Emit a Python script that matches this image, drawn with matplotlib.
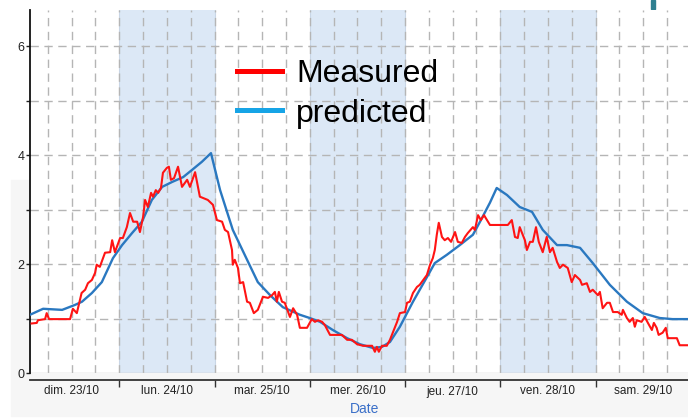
import matplotlib
matplotlib.use("Agg")
import matplotlib.pyplot as plt
from matplotlib.lines import Line2D
from matplotlib.patches import Rectangle
import numpy as np

# ---- data (hours since 23/10 00:00, value) ----
day_labels = ["dim. 23/10", "lun. 24/10", "mar. 25/10", "mer. 26/10",
              "jeu. 27/10", "ven. 28/10", "sam. 29/10"]
shaded_days = [1, 3, 5]

pred_h = [1.5, 4.8, 9.6, 12.8, 14.6, 17.1, 19.6, 22.4, 24.7, 27.2, 29.7, 32.2,
          34.8, 37.3, 40.1, 42.3, 44.8, 47.1, 49.4, 52.6, 56.2, 58.9, 62.0,
          65.2, 69.5, 72.0, 74.6, 77.8, 81.4, 84.6, 87.9, 90.2, 92.2, 94.7,
          98.0, 101.5, 103.5, 106.5, 109.8, 113.1, 114.9, 117.4, 119.1, 121.7,
          124.9, 128.0, 130.7, 134.3, 136.8, 140.1, 143.3, 147.6, 151.9, 155.9,
          160.2, 163.4, 167.3]
pred_v = [1.07, 1.18, 1.16, 1.25, 1.31, 1.47, 1.67, 2.11, 2.35, 2.57, 2.78, 3.18,
          3.42, 3.51, 3.60, 3.73, 3.88, 4.04, 3.36, 2.63, 2.08, 1.67, 1.43,
          1.21, 1.07, 1.01, 0.94, 0.79, 0.64, 0.53, 0.46, 0.48, 0.57, 0.85,
          1.31, 1.76, 2.02, 2.17, 2.35, 2.54, 2.78, 3.13, 3.40, 3.27,
          3.05, 2.96, 2.63, 2.35, 2.35, 2.30, 2.02, 1.62, 1.31, 1.10,
          1.01, 0.99, 0.99]

meas_h = [1.9, 3.2, 3.5, 5.3, 5.7, 6.3, 11.6, 12.3, 13.3, 14.5, 15.4, 16.1, 17.1,
          17.9, 18.3, 19.1, 20.4, 21.7, 22.2, 22.9, 24.2, 24.9, 25.9, 26.7, 27.5,
          28.5, 29.2, 30.0, 30.5, 31.2, 32.0, 32.5, 33.2, 33.8, 34.5, 35.0, 36.0,
          36.5, 37.0, 37.8, 38.8, 39.8, 41.1, 41.8, 43.1, 44.3, 46.3, 47.6, 48.6,
          49.9, 50.6, 51.4, 52.4, 52.6, 53.1, 53.9, 54.4, 55.2, 56.2, 56.9, 57.9,
          58.9, 60.2, 61.5, 62.5, 63.2, 63.7, 64.2, 65.0, 65.7, 66.2, 67.0, 67.8,
          68.8, 69.5, 71.3, 72.5, 73.3, 74.1, 75.1, 75.8, 77.1, 80.1, 81.4, 82.6,
          83.9, 85.4, 87.7, 88.4, 88.9, 89.4, 90.2, 91.4, 92.2, 92.9, 94.0, 94.7,
          96.0, 96.5, 97.2, 98.0, 99.0, 99.7, 101.5, 102.3, 103.0, 103.5, 104.0,
          104.5, 105.3, 106.0, 106.8, 107.6, 108.6, 109.3, 110.3, 111.1, 111.8,
          113.1, 113.6, 114.4, 115.1, 115.9, 117.4, 121.9, 122.9, 123.7, 124.4,
          124.9, 126.2, 126.7, 127.5, 128.2, 129.0, 129.7, 130.7, 131.7, 132.5,
          133.2, 134.3, 135.0, 135.8, 137.0, 138.0, 138.8, 140.1, 140.6, 141.8,
          142.6, 143.3, 144.6, 145.1, 145.8, 146.9, 147.6, 148.4, 149.6, 150.6,
          150.9, 151.9, 152.6, 153.4, 153.9, 154.4, 155.6, 156.4, 157.2, 158.2,
          158.7, 159.4, 159.9, 160.9, 161.7, 162.2, 164.5, 165.2, 167.3]
meas_v = [0.91, 0.92, 0.97, 0.99, 1.10, 0.99, 0.99, 1.18, 1.10, 1.47, 1.53, 1.65, 1.71,
          1.84, 1.99, 1.95, 2.21, 2.22, 2.44, 2.22, 2.48, 2.48, 2.68, 2.94, 2.78,
          2.78, 2.59, 2.87, 3.18, 3.05, 3.31, 3.24, 3.36, 3.31, 3.40, 3.68, 3.77,
          3.79, 3.55, 3.58, 3.79, 3.42, 3.55, 3.42, 3.69, 3.24, 3.18, 3.09, 2.81,
          2.78, 2.63, 2.59, 2.26, 1.99, 2.08, 1.93, 1.65, 1.67, 1.31, 1.29, 1.10,
          1.16, 1.40, 1.38, 1.43, 1.49, 1.31, 1.49, 1.31, 1.29, 1.19, 1.03, 1.19,
          1.07, 0.83, 0.83, 0.99, 0.94, 0.97, 0.94, 0.88, 0.70, 0.70, 0.61, 0.61,
          0.53, 0.50, 0.50, 0.39, 0.48, 0.39, 0.50, 0.50, 0.61, 0.74, 0.94, 1.10,
          1.12, 1.29, 1.31, 1.47, 1.58, 1.62, 1.80, 1.99, 2.11, 2.26, 2.54,
          2.76, 2.50, 2.44, 2.48, 2.41, 2.59, 2.41, 2.39, 2.50, 2.57,
          2.68, 2.63, 2.90, 2.81, 2.90, 2.72, 2.72, 2.81, 2.50, 2.48,
          2.68, 2.44, 2.26, 2.41, 2.41, 2.68, 2.41, 2.22, 2.50, 2.22,
          2.30, 2.04, 1.93, 1.99, 1.93, 1.67, 1.80, 1.71, 1.62, 1.65,
          1.49, 1.53, 1.43, 1.49, 1.19, 1.29, 1.29, 1.12, 1.12, 1.07,
          1.16, 1.01, 0.94, 1.01, 0.85, 0.97, 0.94, 1.03, 0.92, 0.79,
          0.92, 0.83, 0.70, 0.74, 0.83, 0.64, 0.64, 0.51, 0.51]

legend_labels = ["Measured", "predicted"]

# ---- figure ----
W, H = 688, 418
fig = plt.figure(figsize=(W / 100, H / 100), dpi=100)
fig.patches.append(Rectangle((11 / W, 2 / H), 1, 236 / H, transform=fig.transFigure,
                             color="#f6f6f6", zorder=-10))
fig.patches.append(Rectangle((651 / W, 409 / H), 4 / W, 9 / H, transform=fig.transFigure,
                             color="#2f7f90", zorder=-5))

ax = fig.add_axes([30 / W, 45 / H, 1 - 30 / W, 363 / H])
ax.set_facecolor("white")
ax.set_xlim(1.5, 167.3)
ax.set_ylim(0, 6.67)

for d in shaded_days:
    ax.axvspan(d * 24, (d + 1) * 24, color="#dce8f6", lw=0, zorder=0)
    for e in (d * 24, (d + 1) * 24):
        ax.axvline(e, color="#c9d6e6", lw=0.8, zorder=0.5)

for yv in range(1, 7):
    ax.axhline(yv, color="#b5b5b5", lw=1.0, ls=(0, (6, 4)), zorder=1)
for xv in np.arange(6, 168, 6):
    ax.axvline(xv, color="#b5b5b5", lw=1.0, ls=(0, (6, 4)), zorder=1)
ax.axhline(0, color="#c8c8c8", lw=1.0, zorder=1)

ax.plot(pred_h, pred_v, color="#2a78c0", lw=1.7, zorder=3)
ax.plot(meas_h, meas_v, color="#ff1414", lw=1.5, zorder=4)

# axes styling
for s in ("top", "right"):
    ax.spines[s].set_visible(False)
ax.spines["left"].set_color("#111111")
ax.spines["left"].set_linewidth(1.3)
ax.spines["bottom"].set_position(("outward", 5))
ax.spines["bottom"].set_color("#333333")
ax.spines["bottom"].set_linewidth(1.3)

ax.set_yticks(range(0, 7))
ax.set_yticklabels(["0", "", "2", "", "4", "", "6"])
ax.tick_params(axis="y", length=3, width=1, pad=1, labelsize=9,
               labelcolor="#222222", color="#222222")

ax.set_xticks([24 * k for k in range(1, 7)])
ax.set_xticklabels([])
ax.tick_params(axis="x", which="major", length=5, width=1, color="#333333")
ax.set_xticks([12 + 24 * k for k in range(7)], minor=True)
ax.set_xticklabels(day_labels, minor=True)
ax.tick_params(axis="x", which="minor", length=0, pad=4, labelsize=8.5,
               labelcolor="#222222")
for lab in ax.get_xticklabels(minor=True) + ax.get_yticklabels():
    lab.set_family("Liberation Sans")

fig.text(365 / W, 2 / H, "Date", color="#3a6fc8", fontsize=10, ha="center",
         va="bottom", family="Liberation Sans")

handles = [Line2D([], [], color="#ff0000", lw=3.6),
           Line2D([], [], color="#16a4e6", lw=3.6)]
leg = fig.legend(handles, legend_labels, loc="upper left",
                 bbox_to_anchor=(237 / W, 1 - 59 / H), frameon=False,
                 prop={"family": "Liberation Sans", "size": 23},
                 handlelength=1.4, handletextpad=0.45, labelspacing=0.3,
                 borderpad=0, borderaxespad=0)

fig.savefig("out.png", dpi=100)
